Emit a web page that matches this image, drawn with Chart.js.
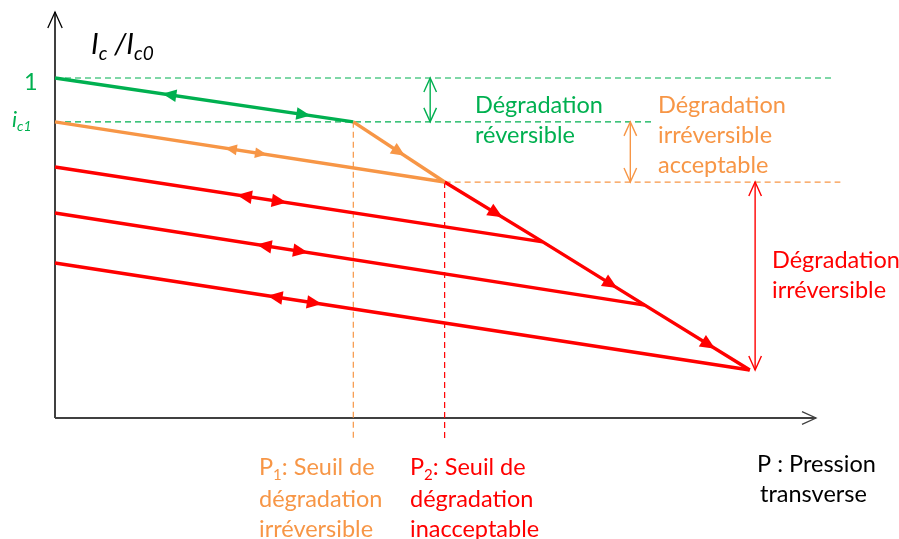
<!DOCTYPE html>
<html>
<head>
<meta charset="utf-8">
<script src="https://cdn.jsdelivr.net/npm/chart.js@4"></script>
<style>
  body { margin: 0; background: #fff; }
  #wrap { width: 899px; height: 539px; }
</style>
</head>
<body>
<div id="wrap"><canvas id="diagramme" width="899" height="539"></canvas></div>
<script>
// seuils de pression (axe P) et niveaux de Ic/Ic0
const P1 = 3.92, P2 = 5.12;
const ic1 = 0.871, icP2 = 0.694;

const greenX = [0, P1],         greenY = [1, ic1];
const orangeX = [0, P2],        orangeY = [ic1, icP2];
const orangeDiagX = [P1, P2],   orangeDiagY = [ic1, icP2];
const redStartY = [0.738, 0.603, 0.456];
const redEndX = [6.41, 7.75, 9.13];
const redEndY = [0.518, 0.332, 0.141];
const redDiagX = [P2, 6.41, 7.75, 9.13];
const redDiagY = [icP2, 0.518, 0.332, 0.141];

const VERT = '#00b050', ORANGE = '#f79646', ROUGE = '#ff0000';
const FONT = 'Lato, "Open Sans", sans-serif';

function pts(xs, ys) { return xs.map((v, i) => ({ x: v, y: ys[i] })); }

function trait(xs, ys, color, arrows, size) {
    return { data: pts(xs, ys), borderColor: color, borderWidth: 3.5, showLine: true,
             pointRadius: 0, clip: false, arrows: arrows, arrowSize: size, order: 1 };
}
function tirets(xs, ys, color) {
    return { data: pts(xs, ys), borderColor: color, borderWidth: 1.2, borderDash: [6, 4],
             showLine: true, pointRadius: 0, clip: false, order: 5 };
}

const datasets = [
    tirets([0, 10.25], [1, 1], VERT),
    tirets([0, 7.85], [ic1, ic1], VERT),
    tirets([P2, 10.32], [icP2, icP2], ORANGE),
    tirets([P1, P1], [ic1, -0.07], ORANGE),
    tirets([P2, P2], [icP2, -0.07], ROUGE),
    trait(orangeX, orangeY, ORANGE, [{ seg: 0, t: 0.436, dir: -1 }, { seg: 0, t: 0.544, dir: 1 }], 12),
    trait(orangeDiagX, orangeDiagY, ORANGE, [{ seg: 0, t: 0.565, dir: 1 }], 14),
    trait(greenX, greenY, VERT, [{ seg: 0, t: 0.36, dir: -1 }, { seg: 0, t: 0.856, dir: 1 }], 14),
    trait([0, redEndX[0]], [redStartY[0], redEndY[0]], ROUGE, [{ seg: 0, t: 0.373, dir: -1 }, { seg: 0, t: 0.475, dir: 1 }], 15),
    trait([0, redEndX[1]], [redStartY[1], redEndY[1]], ROUGE, [{ seg: 0, t: 0.342, dir: -1 }, { seg: 0, t: 0.429, dir: 1 }], 15),
    trait([0, redEndX[2]], [redStartY[2], redEndY[2]], ROUGE, [{ seg: 0, t: 0.306, dir: -1 }, { seg: 0, t: 0.384, dir: 1 }], 15),
    trait(redDiagX, redDiagY, ROUGE, [{ seg: 0, t: 0.59, dir: 1 }, { seg: 1, t: 0.73, dir: 1 }, { seg: 2, t: 0.67, dir: 1 }], 15)
];

// fleches doubles (amplitude de dégradation)
const bornes = [
    { x: 4.93, y0: 1, y1: ic1, color: VERT },
    { x: 7.56, y0: ic1, y1: icP2, color: ORANGE },
    { x: 9.20, y0: icP2, y1: redEndY[2], color: ROUGE }
];

// textes : [x px, ligne de base px, couleur, morceaux]
const textes = [
    [475, 113, VERT, [['Dégradation']]],
    [475, 143, VERT, [['réversible']]],
    [658, 113, ORANGE, [['Dégradation']]],
    [658, 143, ORANGE, [['irréversible']]],
    [658, 173, ORANGE, [['acceptable']]],
    [772, 268, ROUGE, [['Dégradation']]],
    [772, 298, ROUGE, [['irréversible']]],
    [259, 475, ORANGE, [['P'], ['1', 1], [': Seuil de']]],
    [259, 507, ORANGE, [['dégradation']]],
    [259, 537, ORANGE, [['irréversible']]],
    [410, 475, ROUGE, [['P'], ['2', 1], [': Seuil de']]],
    [410, 507, ROUGE, [['dégradation']]],
    [410, 537, ROUGE, [['inacceptable']]],
    [757, 472, '#000', [['P : Pression']]],
    [760, 502, '#000', [['transverse']]],
    [24, 90, VERT, [['1']]]
];

function texteRiche(ctx, x, y, parts, size, italic) {
    let cx = x;
    parts.forEach(([s, sub]) => {
        const fs = sub ? Math.round(size * 0.65) : size;
        ctx.font = (italic ? 'italic ' : '') + fs + 'px ' + FONT;
        ctx.fillText(s, cx, sub ? y + size * 0.2 : y);
        cx += ctx.measureText(s).width;
    });
}

function pointe(ctx, x, y, ang, size, ouverte) {
    const w = size * 0.45;
    ctx.save();
    ctx.translate(x, y);
    ctx.rotate(ang);
    ctx.beginPath();
    ctx.moveTo(-size, -w);
    ctx.lineTo(0, 0);
    ctx.lineTo(-size, w);
    if (ouverte) { ctx.stroke(); } else { ctx.closePath(); ctx.fill(); }
    ctx.restore();
}

const schema = {
    id: 'schema',
    beforeDatasetsDraw(chart) {
        const { ctx, chartArea: a } = chart;
        ctx.save();
        ctx.lineWidth = 1.5;
        ctx.strokeStyle = '#000';
        ctx.beginPath(); ctx.moveTo(a.left, a.bottom); ctx.lineTo(a.left, a.top + 2); ctx.stroke();
        ctx.lineWidth = 1.3;
        pointe(ctx, a.left, a.top + 2, -Math.PI / 2, 16, true);
        ctx.strokeStyle = '#404040';
        ctx.lineWidth = 2;
        ctx.beginPath(); ctx.moveTo(a.left, a.bottom); ctx.lineTo(a.right, a.bottom); ctx.stroke();
        ctx.lineWidth = 1.3;
        pointe(ctx, a.right, a.bottom, 0, 14, true);
        ctx.restore();
    },
    afterDatasetsDraw(chart) {
        const { ctx, scales: { x, y } } = chart;
        ctx.save();
        chart.data.datasets.forEach(ds => {
            if (!ds.arrows) return;
            ctx.fillStyle = ds.borderColor;
            ds.arrows.forEach(ar => {
                const p0 = ds.data[ar.seg], p1 = ds.data[ar.seg + 1];
                const x0 = x.getPixelForValue(p0.x), y0 = y.getPixelForValue(p0.y);
                const x1 = x.getPixelForValue(p1.x), y1 = y.getPixelForValue(p1.y);
                const px = x0 + (x1 - x0) * ar.t, py = y0 + (y1 - y0) * ar.t;
                let ang = Math.atan2(y1 - y0, x1 - x0);
                if (ar.dir < 0) ang += Math.PI;
                pointe(ctx, px, py, ang, ds.arrowSize, false);
            });
        });
        bornes.forEach(b => {
            const px = x.getPixelForValue(b.x);
            const ya = y.getPixelForValue(b.y0), yb = y.getPixelForValue(b.y1);
            ctx.strokeStyle = b.color;
            ctx.lineWidth = 1.4;
            ctx.beginPath(); ctx.moveTo(px, ya); ctx.lineTo(px, yb); ctx.stroke();
            pointe(ctx, px, ya, -Math.PI / 2, 14, true);
            pointe(ctx, px, yb, Math.PI / 2, 14, true);
        });
        ctx.restore();
    },
    afterDraw(chart) {
        const ctx = chart.ctx;
        ctx.save();
        ctx.textBaseline = 'alphabetic';
        textes.forEach(([tx, ty, col, parts]) => {
            ctx.fillStyle = col;
            texteRiche(ctx, tx, ty, parts, 23.5, false);
        });
        ctx.fillStyle = '#000';
        texteRiche(ctx, 91, 54, [['I'], ['c', 1], [' /'], ['I'], ['c0', 1]], 29, true);
        ctx.fillStyle = VERT;
        texteRiche(ctx, 12, 127, [['i'], ['c1', 1]], 22, true);
        ctx.restore();
    }
};

new Chart(document.getElementById('diagramme'), {
    type: 'scatter',
    data: { datasets: datasets },
    options: {
        responsive: false,
        animation: false,
        layout: { padding: { left: 55, right: 83, top: 10, bottom: 121 } },
        plugins: { legend: { display: false }, tooltip: { enabled: false } },
        scales: {
            x: { type: 'linear', min: 0, max: 10, display: false },
            y: { type: 'linear', min: 0, max: 1.2, display: false }
        }
    },
    plugins: [schema]
});
</script>
</body>
</html>
